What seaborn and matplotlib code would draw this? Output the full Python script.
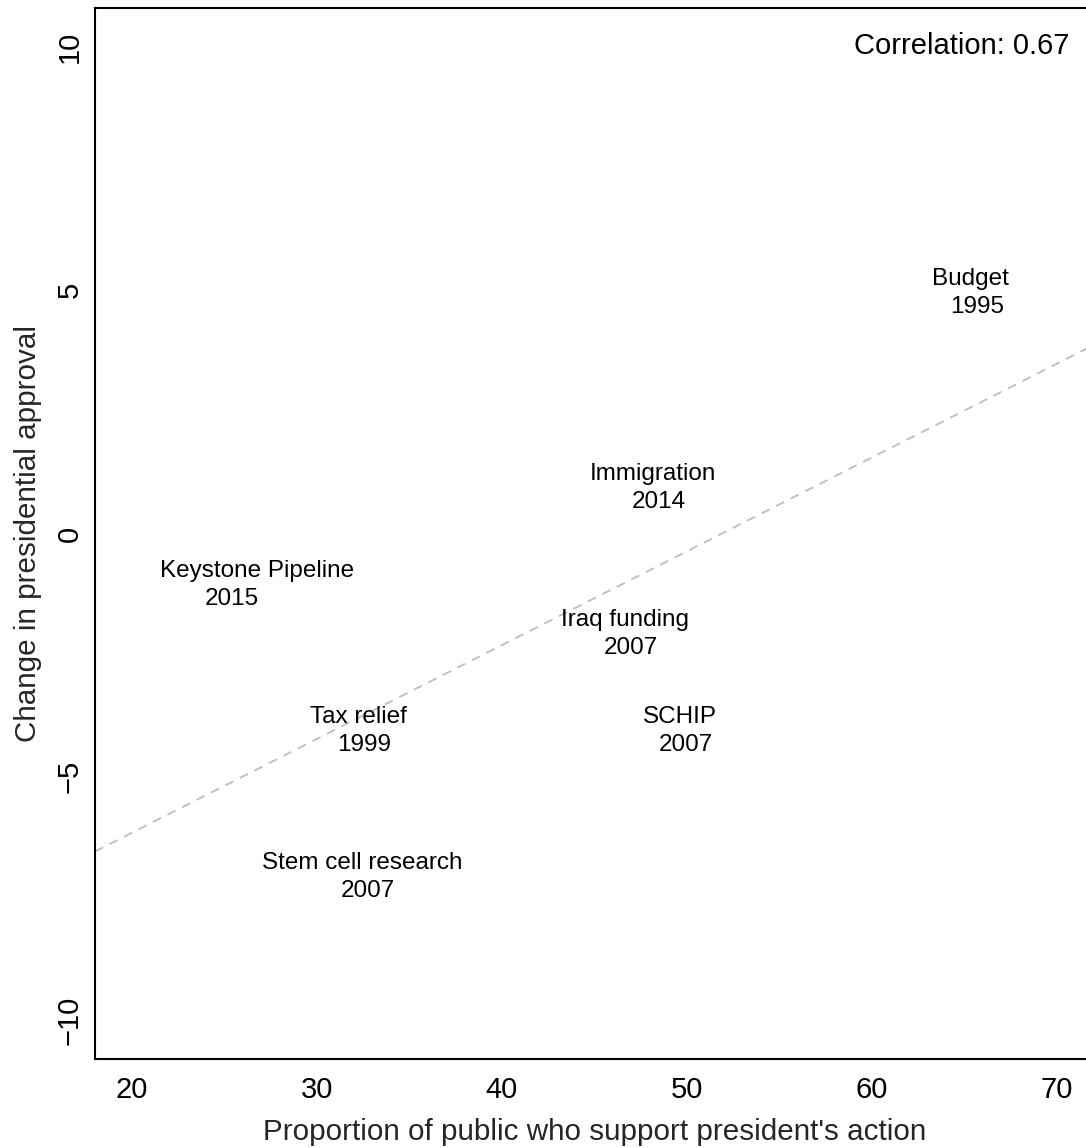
import numpy as np
import pandas as pd
import matplotlib
matplotlib.use("Agg")
import matplotlib.pyplot as plt
import seaborn as sns

# Presidential confrontations: public support for the president's action vs.
# the subsequent change in approval rating.
issues = ["Budget", "Immigration", "Keystone Pipeline", "Iraq funding",
          "Tax relief", "SCHIP", "Stem cell research"]
years = ["1995", "2014", "2015", "2007", "1999", "2007", "2007"]
support = [65.5, 48.3, 25.6, 46.8, 32.4, 49.8, 32.6]
approval_change = [5.0, 1.0, -1.0, -2.0, -4.0, -4.0, -7.0]

x_ticks = [20, 30, 40, 50, 60, 70]
y_ticks = [-10, -5, 0, 5, 10]

# horizontal nudges (pixels) for the issue name and the year line of each label
name_nudge = [-3, -3, 21, -3, -3, -3, -3]
year_nudge = [3, 3, -4, 3, 3, 3, 3]

df = pd.DataFrame({"issue": issues, "year": years,
                   "support": support, "change": approval_change})

sns.set_style("white")
plt.rcParams["font.family"] = ["Liberation Sans", "DejaVu Sans"]

W, H, DPI = 1086, 1148, 100
fig = plt.figure(figsize=(W / DPI, H / DPI), dpi=DPI)
left, right, top, bottom = 95, 1094, 8, 1059
ax = fig.add_axes([left / W, 1 - bottom / H, (right - left) / W, (bottom - top) / H])

ax.set_xlim(18, 72)
ax.set_ylim(-10.8, 10.8)

# least-squares fit across the full x range
sns.regplot(data=df, x="support", y="change", ax=ax, scatter=False, ci=None,
            truncate=False,
            line_kws=dict(color="#bdbdbd", lw=1.3, dashes=(5, 4)))
ax.set_xlim(18, 72)
ax.set_ylim(-10.8, 10.8)

for i, row in df.iterrows():
    ax.annotate(row["issue"], xy=(row["support"], row["change"]),
                xytext=(name_nudge[i], 5), textcoords="offset pixels",
                ha="center", va="baseline", fontsize=17.5, color="black")
    ax.annotate(row["year"], xy=(row["support"], row["change"]),
                xytext=(year_nudge[i], -23), textcoords="offset pixels",
                ha="center", va="baseline", fontsize=17.5, color="black")

r = np.corrcoef(df["support"], df["change"])[0, 1]
fig.text(1069 / W, 1 - 46 / H, f"Correlation: {r:.2f}", ha="right",
         va="center", fontsize=21, color="black")

ax.set_xticks(x_ticks)
ax.set_yticks(y_ticks)
ax.set_xticklabels([str(v) for v in x_ticks])
ax.set_yticklabels([str(v).replace("-", "\u2212") for v in y_ticks],
                   rotation=90, va="center")
ax.tick_params(axis="both", direction="in", length=2, width=1,
               labelsize=21, colors="black")
ax.tick_params(axis="x", pad=12)
ax.tick_params(axis="y", pad=8)

ax.set_xlabel("Proportion of public who support president's action",
              fontsize=21.3, labelpad=10)
ax.set_ylabel("Change in presidential approval", fontsize=21.3, labelpad=10)

for s in ax.spines.values():
    s.set_color("black")
    s.set_linewidth(1.5)

fig.savefig("out.png", dpi=DPI)
